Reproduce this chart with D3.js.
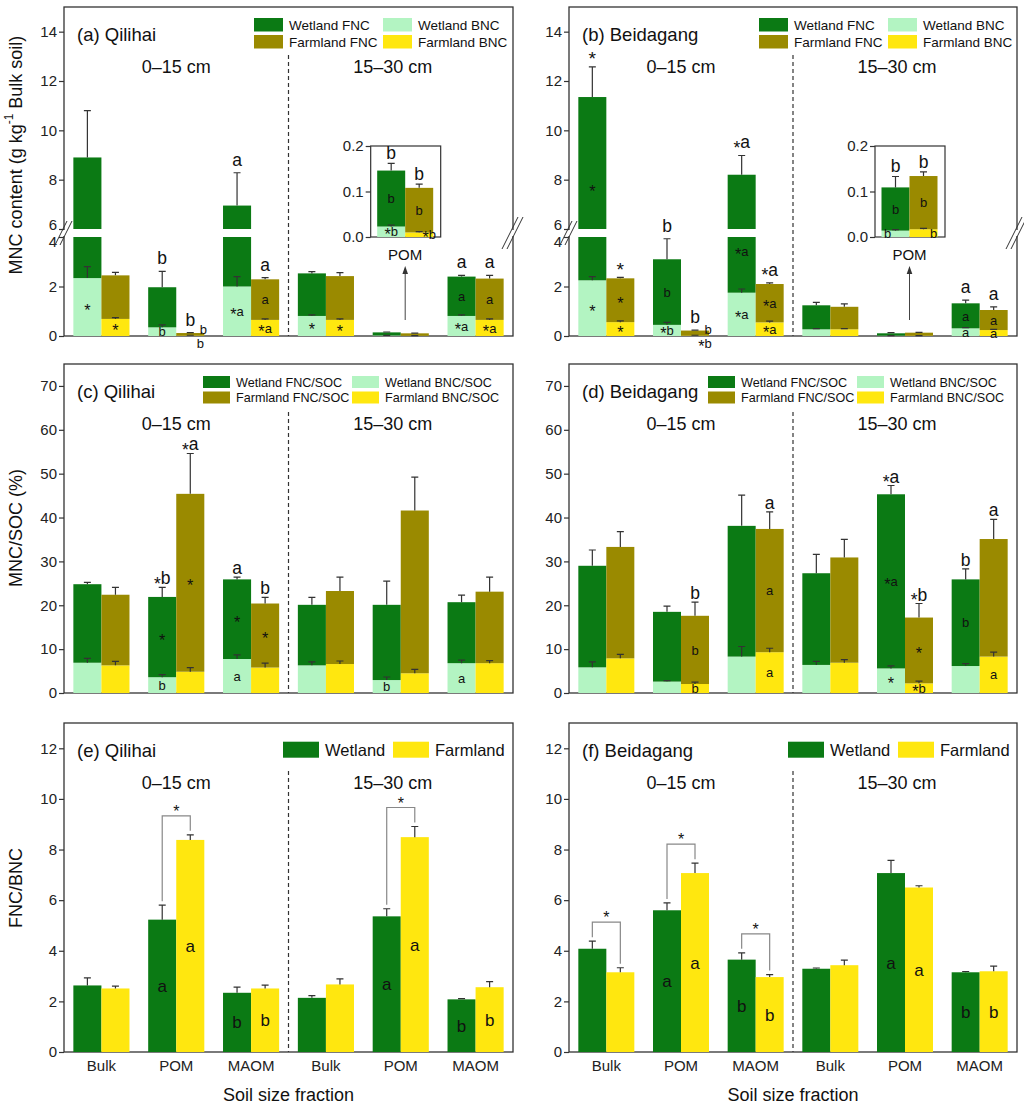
<!doctype html>
<html>
  <head>
    <meta charset="utf-8">
    <title>Microbial necromass carbon</title>
    <script src="https://cdnjs.cloudflare.com/ajax/libs/d3/7.8.5/d3.min.js"></script>
    <style>
      body { margin: 0; background: #fff; }
    </style>
  </head>
  <body>
    <div id="chart"></div>
    <script>
      // categories
      const fractions = ["Bulk", "POM", "MAOM", "Bulk", "POM", "MAOM"];
      const depths = ["0–15 cm", "15–30 cm"];

      // (a) Qilihai, MNC content (g kg-1 bulk soil)
      const aWetFNC    = [6.56, 1.62, 4.95, 1.72, 0.123, 1.59];
      const aWetBNC    = [2.34, 0.35, 2.00, 0.81, 0.023, 0.81];
      const aWetFNCse  = [1.90, 0.64, 1.33, 0.07, 0.016, 0.05];
      const aWetBNCse  = [0.46, 0.10, 0.40, 0.04, 0.003, 0.04];
      const aFarmFNC   = [1.76, 0.10, 1.64, 1.77, 0.098, 1.67];
      const aFarmBNC   = [0.69, 0.02, 0.65, 0.65, 0.010, 0.65];
      const aFarmFNCse = [0.12, 0.02, 0.07, 0.14, 0.008, 0.13];
      const aFarmBNCse = [0.05, 0.01, 0.04, 0.04, 0.002, 0.04];

      // (b) Beidagang, MNC content
      const bWetFNC    = [9.10, 2.65, 6.45, 0.97, 0.095, 1.01];
      const bWetBNC    = [2.25, 0.45, 1.75, 0.27, 0.014, 0.31];
      const bWetFNCse  = [1.22, 0.83, 0.78, 0.12, 0.024, 0.13];
      const bWetBNCse  = [0.15, 0.10, 0.15, 0.03, 0.002, 0.03];
      const bFarmFNC   = [1.77, 0.20, 1.55, 0.91, 0.117, 0.81];
      const bFarmBNC   = [0.56, 0.02, 0.55, 0.27, 0.017, 0.24];
      const bFarmFNCse = [0.04, 0.02, 0.05, 0.12, 0.009, 0.13];
      const bFarmBNCse = [0.05, 0.01, 0.05, 0.03, 0.002, 0.03];

      // (c) Qilihai, MNC/SOC (%)
      const cWetFNC    = [17.9, 18.3, 18.15, 13.8, 17.15, 13.9];
      const cWetBNC    = [6.9, 3.6, 7.75, 6.3, 2.95, 6.8];
      const cWetFNCse  = [0.4, 2.2, 0.5, 1.7, 5.4, 1.6];
      const cWetBNCse  = [1.0, 0.6, 0.95, 0.8, 0.7, 0.7];
      const cFarmFNC   = [16.1, 40.55, 14.6, 16.65, 37.1, 16.3];
      const cFarmBNC   = [6.3, 4.85, 5.8, 6.6, 4.5, 6.8];
      const cFarmFNCse = [1.7, 9.2, 1.4, 3.15, 7.6, 3.3];
      const cFarmBNCse = [0.9, 0.95, 1.0, 0.7, 0.9, 0.6];

      // (d) Beidagang, MNC/SOC (%)
      const dWetFNC    = [23.15, 15.9, 29.8, 20.9, 39.7, 19.75];
      const dWetBNC    = [5.85, 2.6, 8.3, 6.4, 5.6, 6.15];
      const dWetFNCse  = [3.6, 1.3, 7.0, 4.3, 2.0, 2.4];
      const dWetBNCse  = [1.25, 0.2, 2.3, 0.8, 0.6, 0.55];
      const dFarmFNC   = [25.4, 15.55, 28.1, 24.0, 15.0, 26.8];
      const dFarmBNC   = [7.9, 2.05, 9.3, 6.9, 2.2, 8.3];
      const dFarmFNCse = [3.5, 3.1, 3.9, 4.1, 3.2, 4.5];
      const dFarmBNCse = [0.9, 0.45, 0.9, 0.7, 0.5, 1.0];

      // (e) Qilihai and (f) Beidagang, FNC/BNC
      const eWet    = [2.63, 5.23, 2.34, 2.14, 5.36, 2.08];
      const eWetSE  = [0.30, 0.57, 0.22, 0.09, 0.30, 0.03];
      const eFarm   = [2.51, 8.38, 2.51, 2.67, 8.49, 2.56];
      const eFarmSE = [0.09, 0.20, 0.13, 0.22, 0.42, 0.22];
      const fWet    = [4.08, 5.60, 3.65, 3.29, 7.07, 3.15];
      const fWetSE  = [0.30, 0.29, 0.27, 0.03, 0.50, 0.03];
      const fFarm   = [3.15, 7.07, 2.96, 3.43, 6.50, 3.19];
      const fFarmSE = [0.18, 0.39, 0.10, 0.20, 0.07, 0.20];

      // tick values
      const mncTicksLow = [0, 2, 4];
      const mncTicksHigh = [6, 8, 10, 12, 14];
      const insetTicks = [0, 0.1, 0.2];
      const socTicks = [0, 10, 20, 30, 40, 50, 60, 70];
      const ratioTicks = [0, 2, 4, 6, 8, 10, 12];

      // significance letters: [group, series (0 wetland, 1 farmland), place, text]
      const aNotes = [
        [0,0,'bnc','*'], [0,1,'bnc','*'],
        [1,0,'top','b'], [1,0,'bnc','b'],
        [1,1,'top','b'], [1,1,'right','b'], [1,1,'below','b'],
        [2,0,'top','a'], [2,0,'bnc','*a'],
        [2,1,'top','a'], [2,1,'fnc','a'], [2,1,'bnc','*a'],
        [3,0,'bnc','*'], [3,1,'bnc','*'],
        [5,0,'top','a'], [5,0,'fnc','a'], [5,0,'bnc','*a'],
        [5,1,'top','a'], [5,1,'fnc','a'], [5,1,'bnc','*a']
      ];
      const aInsetNotes = [
        [4,0,'top','b'], [4,0,'fnc','b'], [4,0,'bnc','*b'],
        [4,1,'top','b'], [4,1,'fnc','b'], [4,1,'bncr','*b']
      ];
      const bNotes = [
        [0,0,'top','*'], [0,0,'fnc','*'], [0,0,'bnc','*'],
        [0,1,'top','*'], [0,1,'fnc','*'], [0,1,'bnc','*'],
        [1,0,'top','b'], [1,0,'fnc','b'], [1,0,'bnc','*b'],
        [1,1,'top','b'], [1,1,'right','b'], [1,1,'below','*b'],
        [2,0,'top','*a'], [2,0,'fnc','*a'], [2,0,'bnc','*a'],
        [2,1,'top','*a'], [2,1,'fnc','*a'], [2,1,'bnc','*a'],
        [5,0,'top','a'], [5,0,'fnc','a'], [5,0,'bnc','a'],
        [5,1,'top','a'], [5,1,'fnc','a'], [5,1,'bnc','a']
      ];
      const bInsetNotes = [
        [4,0,'top','b'], [4,0,'fnc','b'], [4,0,'bncl','b'],
        [4,1,'top','b'], [4,1,'fnc','b'], [4,1,'bncr','b']
      ];
      const cNotes = [
        [1,0,'top','*b'], [1,0,'fnc','*'], [1,0,'bnc','b'],
        [1,1,'top','*a'], [1,1,'fnc','*'],
        [2,0,'top','a'], [2,0,'fnc','*'], [2,0,'bnc','a'],
        [2,1,'top','b'], [2,1,'fnc','*'],
        [4,0,'bnc','b'],
        [5,0,'bnc','a']
      ];
      const dNotes = [
        [1,1,'top','b'], [1,1,'fnc','b'], [1,1,'bnc','b'],
        [2,1,'top','a'], [2,1,'fnc','a'], [2,1,'bnc','a'],
        [4,0,'top','*a'], [4,0,'fnc','*a'], [4,0,'bnc','*'],
        [4,1,'top','*b'], [4,1,'fnc','*'], [4,1,'bnc','*b'],
        [5,0,'top','b'], [5,0,'fnc','b'],
        [5,1,'top','a'], [5,1,'bnc','a']
      ];
      const eNotes = [[1,0,'a'], [1,1,'a'], [2,0,'b'], [2,1,'b'], [4,0,'a'], [4,1,'a'], [5,0,'b'], [5,1,'b']];
      const fNotes = [[1,0,'a'], [1,1,'a'], [2,0,'b'], [2,1,'b'], [4,0,'a'], [4,1,'a'], [5,0,'b'], [5,1,'b']];
      const eBrackets = [1, 4];
      const fBrackets = [0, 1, 2];

      // layout
      const colX = [64, 569], colW = [449, 448];
      const rowY = [7, 364, 723], H = 329;
      const green = "#0b7a14", mint = "#b3f4c2", olive = "#9a8a00", yellow = "#ffe70f";
      const ink = "#333";
      const font = 'Arial, "Liberation Sans", Helvetica, sans-serif';

      const svg = d3.select('#chart').append('svg')
        .attr('width', 1024).attr('height', 1106)
        .style('font-family', font);

      function panel(col, row) {
        const w = colW[col];
        const g = svg.append('g').attr('transform', `translate(${colX[col]},${rowY[row]})`);
        const x = d3.scaleBand().domain(d3.range(6)).range([0, w]).paddingInner(0.25).paddingOuter(0.125);
        const xs = d3.scaleBand().domain([0, 1]).range([0, x.bandwidth()]);
        return { g, w, x, xs };
      }

      function yAxis(g, scale, ticks, fmt) {
        const a = g.append('g')
          .call(d3.axisLeft(scale).tickValues(ticks).tickSize(5).tickPadding(2).tickSizeOuter(0).tickFormat(fmt || d3.format('d')))
          .attr('font-family', null).attr('font-size', 15);
        a.select('.domain').remove();
        a.selectAll('line').attr('stroke', ink).attr('stroke-width', 1.2);
        a.selectAll('text').attr('fill', '#222');
        return a;
      }

      // letters with a lowered star like the original figure
      function starText(sel, txt, size, grow) {
        sel.text(null);
        let down = false;
        for (const ch of txt) {
          const t = sel.append('tspan').text(ch);
          if (ch === '*') {
            t.attr('font-size', size * grow);
            if (!down) t.attr('dy', size * 0.3);
            down = true;
          } else if (down) {
            t.attr('dy', -size * 0.3);
            down = false;
          }
        }
      }

      function decorate(p, title) {
        p.g.append('line')
          .attr('x1', p.w / 2).attr('x2', p.w / 2).attr('y1', 48).attr('y2', H)
          .attr('stroke', ink).attr('stroke-width', 1.2).attr('stroke-dasharray', '4,3');
        p.g.append('text').attr('x', 13).attr('y', 33.5).attr('font-size', 18.5).attr('fill', '#111').text(title);
        p.g.selectAll('text.depth').data(depths).join('text')
          .attr('class', 'depth')
          .attr('x', (d, i) => i === 0 ? p.w / 4 : p.w * 3 / 4 - 8)
          .attr('y', 66).attr('text-anchor', 'middle').attr('font-size', 18).attr('fill', '#111')
          .text(d => d);
      }

      function legend(g, items, c) {
        const lg = g.append('g').selectAll('g').data(items).join('g')
          .attr('transform', d => `translate(${c.cx[d[2]]},${c.ry[d[3]]})`);
        lg.append('rect').attr('width', c.rw).attr('height', c.rh).attr('fill', d => d[1]);
        lg.append('text').attr('x', c.tx).attr('y', c.rh / 2 + c.fs * 0.36)
          .attr('font-size', c.fs).attr('fill', '#111').text(d => d[0]);
      }

      function piecewise(pieces) {
        return v => {
          for (const pc of pieces) if (v >= pc.d[0] && v <= pc.d[1]) return pc.s(v);
          const a = pieces[0], b = pieces[1];
          const t = (v - a.d[1]) / (b.d[0] - a.d[1]);
          return a.s(a.d[1]) + t * (b.s(b.d[0]) - a.s(a.d[1]));
        };
      }

      const rowsOf = (wet, farm) => d3.range(6).flatMap(i => [wet, farm].map((d, s) => ({
        i, s, bnc: d.bnc[i], tot: d.bnc[i] + d.fnc[i], bse: d.bse[i], tse: d.fse[i]
      })));

      // stacked BNC + FNC bars with error bars and letters
      function stackedBars(g, rows, bx, bw, pieces, yv, notes, o) {
        const colors = [[green, mint], [olive, yellow]];
        const segs = [];
        rows.forEach(r => {
          [[0, r.bnc, colors[r.s][1]], [r.bnc, r.tot, colors[r.s][0]]].forEach(([v0, v1, c]) => {
            pieces.forEach(pc => {
              const lo = Math.max(v0, pc.d[0]), hi = Math.min(v1, pc.d[1]);
              if (hi > lo) segs.push({ x: bx(r), y: pc.s(hi), h: pc.s(lo) - pc.s(hi), c });
            });
          });
        });
        g.append('g').selectAll('rect').data(segs).join('rect')
          .attr('x', d => d.x).attr('y', d => d.y).attr('width', bw).attr('height', d => d.h)
          .attr('fill', d => d.c);

        const errs = rows.flatMap(r => [[r, r.bnc, r.bse], [r, r.tot, r.tse]]);
        g.append('g').selectAll('path').data(errs).join('path')
          .attr('d', ([r, v, e]) => {
            const cx = bx(r) + bw / 2, y0 = yv(v), y1 = yv(v + e);
            return `M${cx},${y0}V${y1}M${cx - 3.5},${y1}H${cx + 3.5}`;
          })
          .attr('fill', 'none').attr('stroke', ink).attr('stroke-width', 1.2);

        const brk = pieces.length > 1 ? [pieces[1].s(pieces[1].d[0]), pieces[0].s(pieces[0].d[1])] : null;
        const y0 = yv(0);
        g.append('g').selectAll('text').data(notes).join('text')
          .attr('text-anchor', 'middle').attr('fill', '#111')
          .each(function ([i, s, place, txt]) {
            const r = rows.find(d => d.i === i && d.s === s);
            const cx = bx(r) + bw / 2;
            let x = cx, y, size = o.inner, shift = 0.36, grow = 1.25;
            if (place === 'top') { y = yv(r.tot + r.tse) - o.gap; size = o.top; shift = 0; grow = txt.length > 1 ? 1 : 1.1; }
            else if (place === 'fnc') {
              y = (yv(r.bnc) + yv(r.tot)) / 2;
              if (brk && y > brk[0] - 8 && y < brk[1] + 8) y = brk[1] + 14;
            }
            else if (place === 'bnc') y = (y0 + yv(r.bnc)) / 2;
            else if (place === 'bncl') { y = (y0 + yv(r.bnc)) / 2; x = cx - 8; }
            else if (place === 'bncr') { y = (y0 + yv(r.bnc)) / 2; x = cx + 10; }
            else if (place === 'right') { y = y0 - 7; x = bx(r) + bw - 1; }
            else if (place === 'below') { y = y0 + 7; x = bx(r) + bw - 4; }
            const t = d3.select(this).attr('x', x).attr('y', y + size * shift).attr('font-size', size);
            starText(t, txt, size, grow);
          });
      }

      // top row: MNC content with broken axis and POM inset
      function mncPanel(col, title, wet, farm, notes, insetNotes) {
        const p = panel(col, 0);
        const yLow = d3.scaleLinear().domain([0, 4]).range([H, 230]);
        const yHigh = d3.scaleLinear().domain([6, 15]).range([222, 0]);
        const pieces = [{ d: [0, 4], s: yLow }, { d: [6, 15], s: yHigh }];
        const yv = piecewise(pieces);
        const rows = rowsOf(wet, farm);

        p.g.append('rect').attr('width', p.w).attr('height', H)
          .attr('fill', 'none').attr('stroke', ink).attr('stroke-width', 1.3);
        decorate(p, title);
        legend(p.g, [["Wetland FNC", green, 0, 0], ["Farmland FNC", olive, 0, 1],
                     ["Wetland BNC", mint, 1, 0], ["Farmland BNC", yellow, 1, 1]],
               { cx: [190, 319], ry: [11, 28], rw: 29, rh: 13.5, tx: 35, fs: 13.5 });

        stackedBars(p.g, rows, r => p.x(r.i) + p.xs(r.s), p.xs.bandwidth(), pieces, yv, notes,
                    { top: 17.5, gap: 7, inner: 13 });

        // axis break
        [0, p.w].forEach(xb => {
          p.g.append('rect').attr('x', xb - 2).attr('y', 223).attr('width', 4).attr('height', 6).attr('fill', '#fff');
        });
        yAxis(p.g, yLow, mncTicksLow).selectAll('.tick').filter(d => d === 4).select('text').attr('dy', '0.62em');
        yAxis(p.g, yHigh, mncTicksHigh).selectAll('.tick').filter(d => d === 6).select('text').attr('dy', '0.02em');
        const slash = (xb, len) => [-3, 2].map(dx => `M${xb + dx - len / 4},${226 + len / 2}L${xb + dx + len / 4},${226 - len / 2}`).join('');
        p.g.append('path').attr('d', slash(0, 24) + slash(p.w, 32))
          .attr('fill', 'none').attr('stroke', ink).attr('stroke-width', 1);

        // inset for the 15–30 cm POM fraction
        const x0 = p.x(4);
        const yIn = d3.scaleLinear().domain([0, 0.2]).range([230, 139]);
        const xIn = d3.scaleBand().domain([0, 1]).range([x0 + 4.5, x0 + 60.5]);
        p.g.append('rect').attr('x', x0 - 2).attr('y', 139).attr('width', 70).attr('height', 91)
          .attr('fill', '#fff').attr('stroke', ink).attr('stroke-width', 1.2);
        yAxis(p.g.append('g').attr('transform', `translate(${x0 - 2},0)`), yIn, insetTicks, d3.format('.1f'));
        stackedBars(p.g, rows.filter(r => r.i === 4), r => xIn(r.s), xIn.bandwidth(),
                    [{ d: [0, 0.2], s: yIn }], yIn, insetNotes, { top: 17.5, gap: 4, inner: 13 });
        const cx = x0 + 32.5;
        p.g.append('text').attr('x', cx).attr('y', 253).attr('text-anchor', 'middle')
          .attr('font-size', 15).attr('fill', '#111').text('POM');
        p.g.append('path').attr('d', `M${cx},${yLow(0) - 16}V266`).attr('stroke', '#444').attr('stroke-width', 1);
        p.g.append('path').attr('d', `M${cx},259l-2.8,8h5.6z`).attr('fill', '#333');
      }

      // middle row: MNC/SOC
      function socPanel(col, title, wet, farm, notes) {
        const p = panel(col, 1);
        const y = d3.scaleLinear().domain([0, 75]).range([H, 0]);
        p.g.append('rect').attr('width', p.w).attr('height', H)
          .attr('fill', 'none').attr('stroke', ink).attr('stroke-width', 1.3);
        decorate(p, title);
        legend(p.g, [["Wetland FNC/SOC", green, 0, 0], ["Farmland FNC/SOC", olive, 0, 1],
                     ["Wetland BNC/SOC", mint, 1, 0], ["Farmland BNC/SOC", yellow, 1, 1]],
               { cx: [139, 288], ry: [12, 27.5], rw: 27, rh: 12, tx: 33, fs: 12.6 });
        stackedBars(p.g, rowsOf(wet, farm), r => p.x(r.i) + p.xs(r.s), p.xs.bandwidth(),
                    [{ d: [0, 75], s: y }], y, notes, { top: 17.5, gap: 3, inner: 13 });
        yAxis(p.g, y, socTicks);
      }

      // bottom row: FNC/BNC
      function ratioPanel(col, title, wet, wetSE, farm, farmSE, notes, brackets) {
        const p = panel(col, 2);
        const y = d3.scaleLinear().domain([0, 13]).range([H, 0]);
        const vals = [[wet, wetSE], [farm, farmSE]];
        const rows = d3.range(6).flatMap(i => [0, 1].map(s => ({ i, s, v: vals[s][0][i], e: vals[s][1][i] })));
        p.g.append('rect').attr('width', p.w).attr('height', H)
          .attr('fill', 'none').attr('stroke', ink).attr('stroke-width', 1.3);
        decorate(p, title);
        legend(p.g, [["Wetland", green, 0, 0], ["Farmland", yellow, 1, 0]],
               { cx: [219, 329], ry: [18.7], rw: 36, rh: 16, tx: 42, fs: 16.5 });

        p.g.append('g').selectAll('rect').data(rows).join('rect')
          .attr('x', d => p.x(d.i) + p.xs(d.s)).attr('width', p.xs.bandwidth())
          .attr('y', d => y(d.v)).attr('height', d => H - y(d.v))
          .attr('fill', d => d.s === 0 ? green : yellow);
        p.g.append('g').selectAll('path').data(rows).join('path')
          .attr('d', d => {
            const cx = p.x(d.i) + p.xs(d.s) + p.xs.bandwidth() / 2, y0 = y(d.v), y1 = y(d.v + d.e);
            return `M${cx},${y0}V${y1}M${cx - 3.5},${y1}H${cx + 3.5}`;
          })
          .attr('fill', 'none').attr('stroke', ink).attr('stroke-width', 1.2);

        p.g.append('g').selectAll('text').data(notes).join('text')
          .attr('x', d => p.x(d[0]) + p.xs(d[1]) + p.xs.bandwidth() / 2)
          .attr('y', d => y(vals[d[1]][0][d[0]] / 2) + 6)
          .attr('text-anchor', 'middle').attr('font-size', 17).attr('fill', '#111')
          .text(d => d[2]);

        // significance brackets between wetland and farmland
        const bg = p.g.append('g').selectAll('g').data(brackets).join('g');
        const legX = (i, s) => p.x(i) + p.xs(s) + p.xs.bandwidth() / 2;
        const topY = i => Math.min(y(wet[i] + wetSE[i]), y(farm[i] + farmSE[i])) - 19;
        bg.append('path')
          .attr('d', i => `M${legX(i, 0)},${y(wet[i] + wetSE[i]) - 4}V${topY(i)}H${legX(i, 1)}V${y(farm[i] + farmSE[i]) - 4}`)
          .attr('fill', 'none').attr('stroke', '#888').attr('stroke-width', 1.2);
        bg.append('text')
          .attr('x', i => (legX(i, 0) + legX(i, 1)) / 2).attr('y', i => topY(i) + 1)
          .attr('text-anchor', 'middle').attr('font-size', 16).attr('fill', '#111').text('*');

        yAxis(p.g, y, ratioTicks);
        const xa = p.g.append('g').attr('transform', `translate(0,${H})`)
          .call(d3.axisBottom(p.x).tickSize(0).tickPadding(8).tickFormat(i => fractions[i]))
          .attr('font-family', null).attr('font-size', 15);
        xa.select('.domain').remove();
        xa.selectAll('text').attr('fill', '#222');
        p.g.append('text').attr('x', p.w / 2).attr('y', 378).attr('text-anchor', 'middle')
          .attr('font-size', 18).attr('fill', '#111').text('Soil size fraction');
      }

      mncPanel(0, "(a) Qilihai",
        { fnc: aWetFNC, bnc: aWetBNC, fse: aWetFNCse, bse: aWetBNCse },
        { fnc: aFarmFNC, bnc: aFarmBNC, fse: aFarmFNCse, bse: aFarmBNCse }, aNotes, aInsetNotes);
      mncPanel(1, "(b) Beidagang",
        { fnc: bWetFNC, bnc: bWetBNC, fse: bWetFNCse, bse: bWetBNCse },
        { fnc: bFarmFNC, bnc: bFarmBNC, fse: bFarmFNCse, bse: bFarmBNCse }, bNotes, bInsetNotes);
      socPanel(0, "(c) Qilihai",
        { fnc: cWetFNC, bnc: cWetBNC, fse: cWetFNCse, bse: cWetBNCse },
        { fnc: cFarmFNC, bnc: cFarmBNC, fse: cFarmFNCse, bse: cFarmBNCse }, cNotes);
      socPanel(1, "(d) Beidagang",
        { fnc: dWetFNC, bnc: dWetBNC, fse: dWetFNCse, bse: dWetBNCse },
        { fnc: dFarmFNC, bnc: dFarmBNC, fse: dFarmFNCse, bse: dFarmBNCse }, dNotes);
      ratioPanel(0, "(e) Qilihai", eWet, eWetSE, eFarm, eFarmSE, eNotes, eBrackets);
      ratioPanel(1, "(f) Beidagang", fWet, fWetSE, fFarm, fFarmSE, fNotes, fBrackets);

      // y axis titles
      const yt = svg.append('g').attr('font-size', 18).attr('fill', '#111');
      const t1 = yt.append('text').attr('transform', 'translate(16,155) rotate(-90)')
        .attr('text-anchor', 'middle').attr('dominant-baseline', 'central');
      t1.append('tspan').text('MNC content (g kg');
      t1.append('tspan').attr('font-size', 12).attr('dy', -7).text('-1');
      t1.append('tspan').attr('dy', 7).text(' Bulk soil)');
      yt.append('text').attr('transform', 'translate(16,528) rotate(-90)')
        .attr('text-anchor', 'middle').attr('dominant-baseline', 'central').text('MNC/SOC (%)');
      yt.append('text').attr('transform', 'translate(16,888) rotate(-90)')
        .attr('text-anchor', 'middle').attr('dominant-baseline', 'central').text('FNC/BNC');
    </script>
  </body>
</html>
